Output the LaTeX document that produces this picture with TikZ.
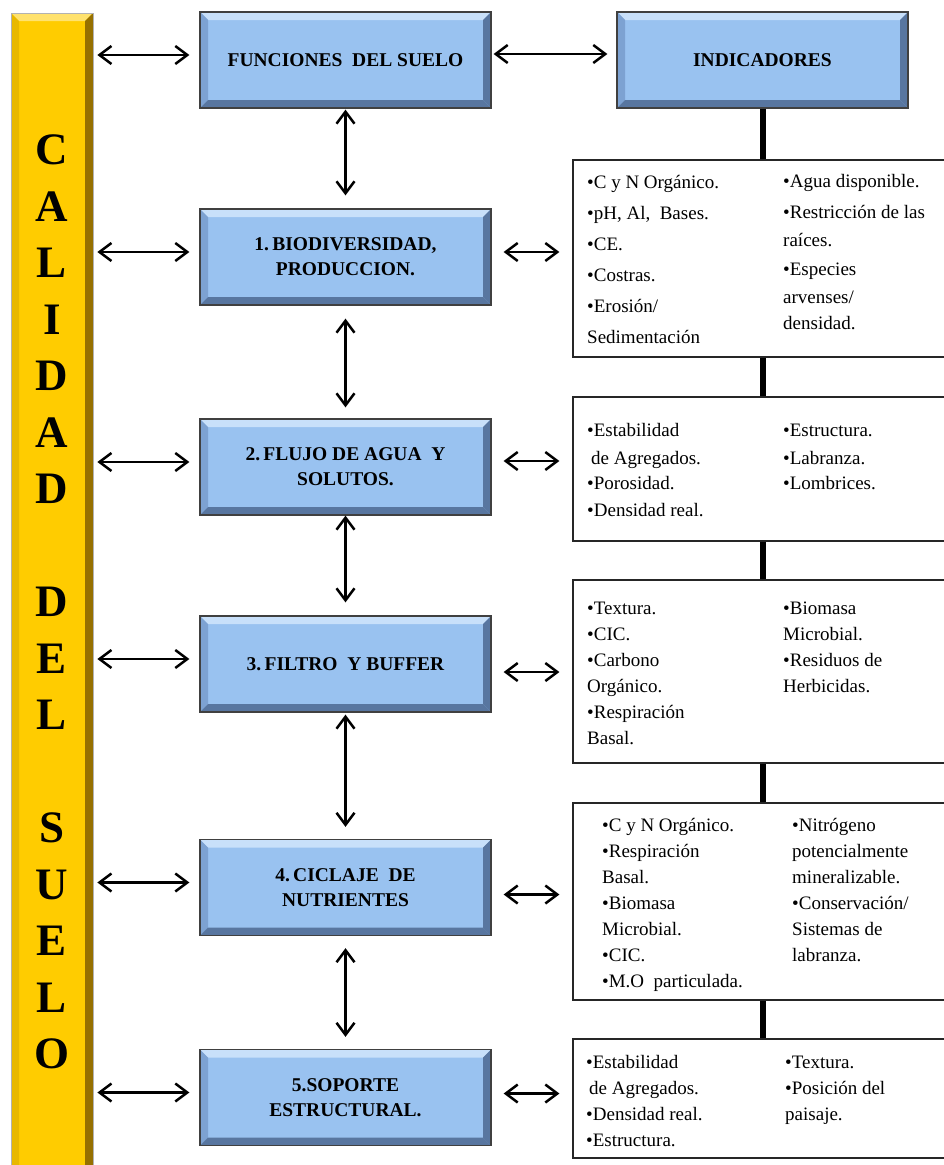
\documentclass[tikz,border=0pt]{standalone}
\usepackage{fontspec}
\setmainfont{Liberation Serif}
\usetikzlibrary{positioning,arrows.meta}

\definecolor{oro}{RGB}{255,204,0}
\definecolor{oroclaro}{RGB}{255,226,110}
\definecolor{orooscuro}{RGB}{150,112,0}
\definecolor{oromedio}{RGB}{232,184,0}
\definecolor{azulcaja}{RGB}{153,194,240}
\definecolor{azulclaro}{RGB}{200,224,250}
\definecolor{azulmedio}{RGB}{125,162,210}
\definecolor{azuloscuro}{RGB}{88,118,160}

\tikzset{
  bisel/.style n args={4}{path picture={
      \fill[#1] (path picture bounding box.north west) -- (path picture bounding box.north east)
        -- ([xshift=-8pt,yshift=-8pt]path picture bounding box.north east)
        -- ([xshift=8pt,yshift=-8pt]path picture bounding box.north west) -- cycle;
      \fill[#2] (path picture bounding box.north west) -- ([xshift=8pt,yshift=-8pt]path picture bounding box.north west)
        -- ([xshift=8pt,yshift=8pt]path picture bounding box.south west) -- (path picture bounding box.south west) -- cycle;
      \fill[#3] (path picture bounding box.south west) -- ([xshift=8pt,yshift=8pt]path picture bounding box.south west)
        -- ([xshift=-8pt,yshift=8pt]path picture bounding box.south east) -- (path picture bounding box.south east) -- cycle;
      \fill[#4] (path picture bounding box.north east) -- ([xshift=-8pt,yshift=-8pt]path picture bounding box.north east)
        -- ([xshift=-8pt,yshift=8pt]path picture bounding box.south east) -- (path picture bounding box.south east) -- cycle;
  }},
  funcbox/.style={draw=black!75, line width=1.3pt, fill=azulcaja, minimum width=291pt, minimum height=96pt,
    align=center, font=\fontsize{19.5}{25}\selectfont\bfseries,
    bisel={azulclaro}{azulmedio}{azuloscuro}{azuloscuro}},
  barra/.style={draw=black!30, line width=0.8pt, fill=oro, minimum width=82pt, minimum height=1180pt,
    bisel={oroclaro}{oromedio}{orooscuro}{orooscuro}},
  letra/.style={font=\fontsize{45}{45}\selectfont\bfseries, inner sep=0pt},
  indbox/.style={draw=black!85, line width=1.2pt, minimum width=377pt, fill=white},
  indtext/.style={anchor=north west, inner sep=0pt, align=left, font=\fontsize{19}{26}\selectfont},
  dobleflecha/.style={{Straight Barb[length=12pt,width=18pt]}-{Straight Barb[length=12pt,width=18pt]}, line width=2.5pt},
  linea/.style={line width=6pt}
}

\begin{document}
\begin{tikzpicture}[x=1pt,y=-1pt]
  \useasboundingbox (0,0) rectangle (943,1165);

  % barra lateral
  \node[barra] (bar) at (52,603) {};
  \foreach \l/\k in {C/0,A/1,L/2,I/3,D/4,A/5,D/6,D/8,E/9,L/10,S/12,U/13,E/14,L/15,O/16}
    \node[letra] (l\k) at (52,150+56.5*\k) {\l};

  % funciones
  \node[funcbox] (fun) at (345.5,60) {FUNCIONES~~DEL SUELO};
  \node[funcbox] (ind) at (762.5,60) {INDICADORES};
  \node[funcbox] (b1) at (345.5,257) {1.\,BIODIVERSIDAD,\\PRODUCCION.};
  \node[funcbox] (b2) at (345.5,467) {2.\,FLUJO DE AGUA~~Y\\SOLUTOS.};
  \node[funcbox] (b3) at (345.5,664) {3.\,FILTRO~~Y BUFFER};
  \node[funcbox] (b4) at (345.5,887.5) {4.\,CICLAJE~~DE\\NUTRIENTES};
  \node[funcbox] (b5) at (345.5,1097.5) {5.SOPORTE\\ESTRUCTURAL.};

  % indicadores
  \node[indbox, minimum height=197pt] (ia) at (761.5,258.5) {};
  \node[indbox, minimum height=144pt] (ib) at (761.5,469) {};
  \node[indbox, minimum height=183pt] (ic) at (761.5,671.5) {};
  \node[indbox, minimum height=197pt] (id) at (761.5,901.5) {};
  \node[indbox, minimum height=119pt] (ie) at (761.5,1098.5) {};

  \node[indtext] (ta1) at (587,170) {\strut•C y N Orgánico.\\[5pt]•pH, Al,~ Bases.\\[5pt]•CE.\\[5pt]•Costras.\\[5pt]•Erosión/\\[5pt]Sedimentación};
  \node[indtext] (ta2) at (783,169) {\strut•Agua disponible.\\[5pt]•Restricción de las\\[2pt]raíces.\\[3pt]•Especies\\[2pt]arvenses/\\densidad.};
  \node[indtext] (tb1) at (587,418) {\strut•Estabilidad\\[2pt]\hspace*{4pt}de Agregados.\\[-1pt]•Porosidad.\\[1pt]•Densidad real.};
  \node[indtext] (tb2) at (783,418) {\strut•Estructura.\\[2pt]•Labranza.\\[-1pt]•Lombrices.};
  \node[indtext] (tc1) at (587,596) {\strut•Textura.\\•CIC.\\•Carbono\\Orgánico.\\•Respiración\\Basal.};
  \node[indtext] (tc2) at (783,596) {\strut•Biomasa\\Microbial.\\•Residuos de\\Herbicidas.};
  \node[indtext] (td1) at (602,813) {\strut•C y N Orgánico.\\•Respiración\\Basal.\\•Biomasa\\Microbial.\\•CIC.\\•M.O~ particulada.};
  \node[indtext] (td2) at (792,813) {\strut•Nitrógeno\\potencialmente\\mineralizable.\\•Conservación/\\Sistemas de\\labranza.};
  \node[indtext] (te1) at (586,1050) {\strut•Estabilidad\\\hspace*{3pt}de Agregados.\\•Densidad real.\\•Estructura.};
  \node[indtext] (te2) at (785,1050) {\strut•Textura.\\•Posición del\\paisaje.};

  % conectores
  \foreach \b in {fun,b1,b2,b3,b4,b5}
    \draw[dobleflecha, shorten <=4pt, shorten >=10pt] ([yshift=5pt]bar.east |- \b.west) -- ([yshift=5pt]\b.west);
  \draw[dobleflecha, shorten <=2pt, shorten >=9pt] ([yshift=6pt]fun.east) -- ([yshift=6pt]ind.west);
  \draw[dobleflecha, shorten <=1pt, shorten >=13pt] (fun) -- (b1);
  \draw[dobleflecha, shorten <=13pt, shorten >=11pt] (b1) -- (b2);
  \draw[dobleflecha, shorten <=0pt, shorten >=13pt] (b2) -- (b3);
  \draw[dobleflecha, shorten <=2pt, shorten >=12pt] (b3) -- (b4);
  \draw[dobleflecha, shorten <=12pt, shorten >=12pt] (b4) -- (b5);
  \foreach \b/\i/\dy in {b1/ia/5,b2/ib/6,b3/ic/-8,b4/id/-7,b5/ie/4}
    \draw[dobleflecha, shorten <=12pt, shorten >=13pt] ([yshift=\dy pt]\b.east) -- ([yshift=\dy pt]\b.east -| \i.west);
  \draw[linea] (ind.south) -- (ind.south |- ia.north);
  \draw[linea] (ind.south |- ia.south) -- (ind.south |- ib.north);
  \draw[linea] (ind.south |- ib.south) -- (ind.south |- ic.north);
  \draw[linea] (ind.south |- ic.south) -- (ind.south |- id.north);
  \draw[linea] (ind.south |- id.south) -- (ind.south |- ie.north);
\end{tikzpicture}
\end{document}
